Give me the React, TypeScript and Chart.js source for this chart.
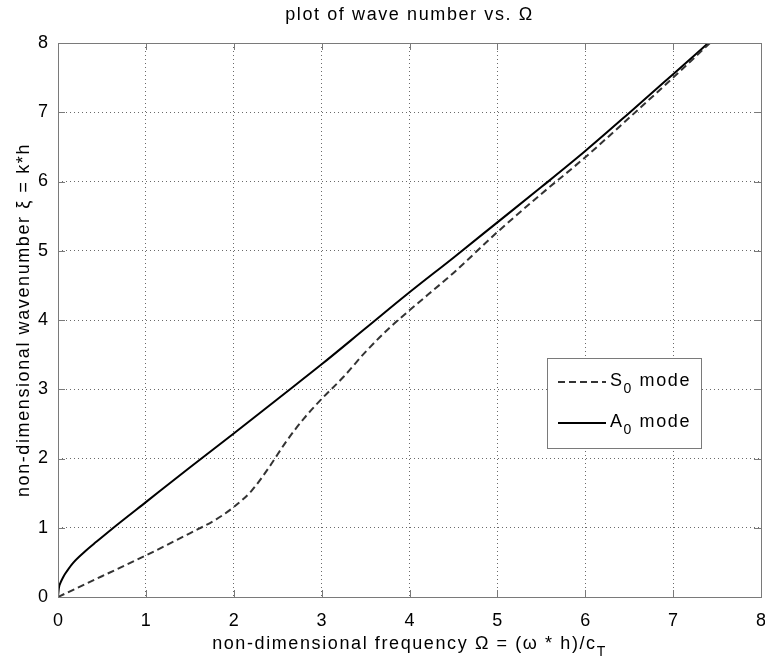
import React, { useEffect, useRef } from 'react';
import { Chart, registerables } from 'chart.js';

Chart.register(...registerables);

// ---- Data ----
const omegaS0 = [0, 0.5, 1.0, 1.5, 1.8, 2.0, 2.2, 2.4, 2.6, 2.8, 3.0, 3.25, 3.5, 3.75, 4.0, 4.5, 5.0, 5.5, 6.0, 6.5, 7.0, 7.42];
const xiS0 = [0, 0.3, 0.6, 0.92, 1.12, 1.3, 1.53, 1.87, 2.25, 2.58, 2.86, 3.18, 3.54, 3.86, 4.14, 4.68, 5.27, 5.82, 6.35, 6.92, 7.5, 8.0];
const omegaA0 = [0, 0.01, 0.03, 0.06, 0.1, 0.17, 0.3, 0.44, 0.67, 1.0, 1.5, 2.0, 2.5, 3.0, 3.5, 4.0, 4.5, 5.0, 5.5, 6.0, 6.5, 7.0, 7.4];
const xiA0 = [0, 0.13, 0.21, 0.29, 0.37, 0.49, 0.65, 0.8, 1.04, 1.37, 1.87, 2.36, 2.86, 3.36, 3.88, 4.4, 4.9, 5.41, 5.92, 6.44, 6.99, 7.55, 8.0];

const xTicks = [0, 1, 2, 3, 4, 5, 6, 7, 8];
const yTicks = [0, 1, 2, 3, 4, 5, 6, 7, 8];

const seriesNames = ['S', 'A'];
const titleText = 'plot of wave number vs. \u03A9';
const xLabelParts = [
  { text: 'non-dimensional frequency \u03A9 = (\u03C9 * h)/c', sub: false },
  { text: 'T', sub: true },
];
const yLabelText = 'non-dimensional wavenumber \u03BE = k*h';

const FONT = '"Liberation Sans", Arial, Helvetica, sans-serif';
const FS = 18;
const SPACING = 1.6;
const BOX_COLOR = '#7a7a7a';

type Part = { text: string; sub: boolean };

function drawRich(ctx: CanvasRenderingContext2D, parts: Part[], x: number, y: number, align: 'center' | 'left') {
  ctx.save();
  (ctx as any).letterSpacing = SPACING + 'px';
  ctx.textAlign = 'left';
  ctx.textBaseline = 'alphabetic';
  ctx.fillStyle = '#000';
  const widths = parts.map((p) => {
    ctx.font = `${p.sub ? Math.round(FS * 0.8) : FS}px ${FONT}`;
    return ctx.measureText(p.text).width;
  });
  const total = widths.reduce((a, b) => a + b, 0);
  let cx = align === 'center' ? x - total / 2 : x;
  parts.forEach((p, i) => {
    ctx.font = `${p.sub ? Math.round(FS * 0.8) : FS}px ${FONT}`;
    ctx.fillText(p.text, cx, y + (p.sub ? 7 : 0));
    cx += widths[i];
  });
  ctx.restore();
}

const decorPlugin = {
  id: 'matlabDecor',
  afterDatasetsDraw(chart: any) {
    const { ctx, chartArea: a, scales } = chart;
    const xs = scales.x;
    const ys = scales.y;
    ctx.save();
    // axes box
    ctx.strokeStyle = BOX_COLOR;
    ctx.lineWidth = 1;
    ctx.setLineDash([]);
    ctx.strokeRect(Math.round(a.left) + 0.5, Math.round(a.top) + 0.5, Math.round(a.right - a.left), Math.round(a.bottom - a.top));
    // inward ticks
    const tl = 7;
    ctx.beginPath();
    xTicks.forEach((v) => {
      const px = Math.round(xs.getPixelForValue(v)) + 0.5;
      ctx.moveTo(px, a.bottom);
      ctx.lineTo(px, a.bottom - tl);
      ctx.moveTo(px, a.top);
      ctx.lineTo(px, a.top + tl);
    });
    yTicks.forEach((v) => {
      const py = Math.round(ys.getPixelForValue(v)) + 0.5;
      ctx.moveTo(a.left, py);
      ctx.lineTo(a.left + tl, py);
      ctx.moveTo(a.right, py);
      ctx.lineTo(a.right - tl, py);
    });
    ctx.stroke();

    // legend
    const lx = 547, ly = 358, lw = 154, lh = 90;
    ctx.fillStyle = '#fff';
    ctx.fillRect(lx, ly, lw, lh);
    ctx.strokeStyle = BOX_COLOR;
    ctx.strokeRect(lx + 0.5, ly + 0.5, lw, lh);
    const rows = [382, 423];
    chart.data.datasets.forEach((ds: any, i: number) => {
      const ry = rows[i];
      ctx.save();
      ctx.strokeStyle = ds.borderColor;
      ctx.lineWidth = ds.borderWidth;
      ctx.setLineDash(ds.borderDash || []);
      ctx.beginPath();
      ctx.moveTo(lx + 11, ry);
      ctx.lineTo(lx + 59, ry);
      ctx.stroke();
      ctx.restore();
      drawRich(ctx, [
        { text: seriesNames[i], sub: false },
        { text: '0', sub: true },
        { text: ' mode', sub: false },
      ], lx + 63, ry + 4, 'left');
    });
    ctx.restore();
  },
  afterDraw(chart: any) {
    const { ctx, chartArea: a } = chart;
    const cx = (a.left + a.right) / 2;
    const cy = (a.top + a.bottom) / 2;
    drawRich(ctx, [{ text: titleText, sub: false }], cx, 20, 'center');
    drawRich(ctx, xLabelParts, cx, 649, 'center');
    ctx.save();
    ctx.translate(28.5, cy);
    ctx.rotate(-Math.PI / 2);
    drawRich(ctx, [{ text: yLabelText, sub: false }], 0, 0, 'center');
    ctx.restore();
  },
};

export default function App() {
  const ref = useRef<HTMLCanvasElement | null>(null);
  useEffect(() => {
    const canvas = ref.current;
    if (!canvas) return;
    const tickFont = { family: FONT, size: FS };
    const chart = new Chart(canvas, {
      type: 'line',
      data: {
        datasets: [
          {
            label: 'S0 mode',
            data: omegaS0.map((x, i) => ({ x, y: xiS0[i] })),
            borderColor: '#333333',
            borderWidth: 2,
            borderDash: [7, 4],
            pointRadius: 0,
            fill: false,
            cubicInterpolationMode: 'monotone',
          },
          {
            label: 'A0 mode',
            data: omegaA0.map((x, i) => ({ x, y: xiA0[i] })),
            borderColor: '#000000',
            borderWidth: 2,
            pointRadius: 0,
            fill: false,
            cubicInterpolationMode: 'monotone',
          },
        ],
      },
      options: {
        animation: false,
        responsive: false,
        devicePixelRatio: 1,
        layout: { padding: { left: 0, top: 43, right: 4, bottom: 0 } },
        plugins: {
          legend: { display: false },
          title: { display: false },
          tooltip: { enabled: false },
        },
        scales: {
          x: {
            type: 'linear',
            min: 0,
            max: 8,
            afterBuildTicks: (s: any) => {
              s.ticks = xTicks.map((v) => ({ value: v }));
            },
            ticks: { color: '#000', font: tickFont, padding: 13, maxRotation: 0 },
            grid: { color: '#6a6a6a', lineWidth: 1, drawTicks: false },
            border: { display: false, dash: [1, 3] },
            afterFit: (s: any) => {
              s.height = 65;
              s.paddingLeft = 0;
              s.paddingRight = 0;
            },
          },
          y: {
            type: 'linear',
            min: 0,
            max: 8,
            afterBuildTicks: (s: any) => {
              s.ticks = yTicks.map((v) => ({ value: v }));
            },
            ticks: { color: '#000', font: tickFont, padding: 10 },
            grid: { color: '#6a6a6a', lineWidth: 1, drawTicks: false },
            border: { display: false, dash: [1, 3] },
            afterFit: (s: any) => {
              s.width = 58;
              s.paddingTop = 0;
              s.paddingBottom = 0;
            },
          },
        },
      } as any,
      plugins: [decorPlugin],
    });
    return () => chart.destroy();
  }, []);
  return (
    <div style={{ position: 'absolute', left: 0, top: 0, width: 765, height: 662, background: '#fff' }}>
      <canvas ref={ref} width={765} height={662} style={{ width: 765, height: 662, display: 'block' }} />
    </div>
  );
}
